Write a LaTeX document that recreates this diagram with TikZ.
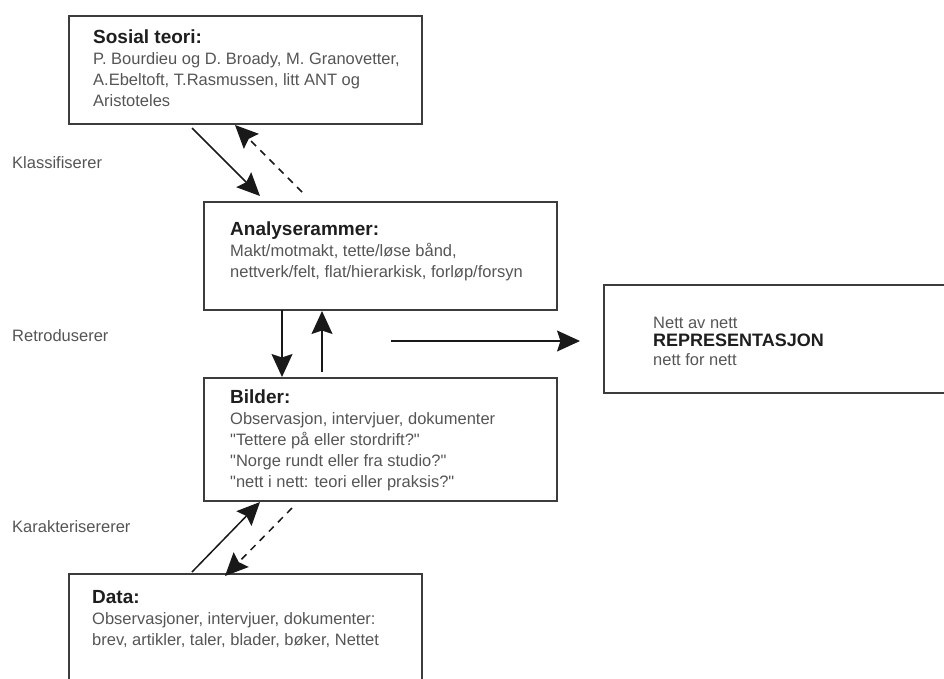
\documentclass[tikz,border=0pt]{standalone}
\usepackage{fontspec}
\setmainfont{Liberation Sans}[Ligatures=TeXOff]
\usetikzlibrary{arrows.meta}
\definecolor{bodyc}{HTML}{555555}
\definecolor{titlec}{HTML}{1E1E1E}
\definecolor{linec}{HTML}{3C3C3C}
\newcommand\boxtitle[1]{{\fontsize{19}{21}\selectfont\bfseries\color{titlec}\rule{0pt}{15pt}#1}}
\begin{document}
\begin{tikzpicture}[x=1pt,y=-1pt,
 frame/.style={draw=linec, line width=1.8pt, rectangle, anchor=north west, inner sep=0pt},
 body/.style={anchor=north west, inner sep=0pt, align=left, text=bodyc, font=\fontsize{16.5}{21}\selectfont},
 lbl/.style={anchor=base west, inner sep=0pt, text=bodyc, font=\fontsize{16.5}{21}\selectfont},
 arr/.style={draw=black!90, line width=1.5pt, -{Stealth[length=23pt,width=21pt,inset=3.5pt]}},
 darr/.style={arr, dash pattern=on 7pt off 6pt}]
\useasboundingbox (0,0) rectangle (944,678);
\clip (0,0) rectangle (944,678);
% boxes
\node[frame, minimum width=353pt, minimum height=108pt] (sosial) at (68,15) {};
\node[frame, minimum width=353pt, minimum height=108pt] (analyse) at (203,201) {};
\node[frame, minimum width=353pt, minimum height=123pt] (bilder) at (203,377) {};
\node[frame, minimum width=353pt, minimum height=130pt] (data) at (68,573) {};
\node[frame, minimum width=360pt, minimum height=108pt] (repr) at (603,284) {};
% box texts
\node[body] (sosialtxt) at (93,28) {\boxtitle{Sosial teori:}\\P. Bourdieu og D. Broady, M. Granovetter,\\A.Ebeltoft, T.Rasmussen, litt ANT og\\Aristoteles};
\node[body] (analysetxt) at (230,220) {\boxtitle{Analyserammer:}\\Makt/motmakt, tette/løse bånd,\\nettverk/felt, flat/hierarkisk, forløp/forsyn};
\node[body] (bildertxt) at (230,388) {\boxtitle{Bilder:}\\Observasjon, intervjuer, dokumenter\\"Tettere på eller stordrift?"\\"Norge rundt eller fra studio?"\\"nett i nett: teori eller praksis?"};
\node[body] (datatxt) at (92,588) {\boxtitle{Data:}\\Observasjoner, intervjuer, dokumenter:\\brev, artikler, taler, blader, bøker, Nettet};
\node[body, font=\fontsize{16.5}{18.5}\selectfont] (reprtxt) at (653,316) {\rule{0pt}{12pt}Nett av nett\\{\fontsize{18}{18.5}\selectfont\bfseries\color{titlec}REPRESENTASJON}\\nett for nett};
% side labels
\node[lbl] (klass) at (12,168) {Klassifiserer};
\node[lbl] (retro) at (12,341) {Retroduserer};
\node[lbl] (karak) at (12,532) {Karakterisererer};
% arrow end points
\coordinate (a1s) at (192,128); \coordinate (a1e) at (260,196);
\coordinate (a2s) at (302,192); \coordinate (a2e) at (235,125);
\coordinate (a3s) at (282,310); \coordinate (a3e) at (282,377);
\coordinate (a4s) at (322,372); \coordinate (a4e) at (322,311);
\coordinate (a5s) at (391,341); \coordinate (a5e) at (580,341);
\coordinate (a6s) at (192,572); \coordinate (a6e) at (260,502);
\coordinate (a7s) at (292,508); \coordinate (a7e) at (225,576);
\draw[arr] (a1s) -- (a1e);
\draw[darr] (a2s) -- (a2e);
\draw[arr] (a3s) -- (a3e);
\draw[arr] (a4s) -- (a4e);
\draw[arr] (a5s) -- (a5e);
\draw[arr] (a6s) -- (a6e);
\draw[darr] (a7s) -- (a7e);
\end{tikzpicture}
\end{document}
